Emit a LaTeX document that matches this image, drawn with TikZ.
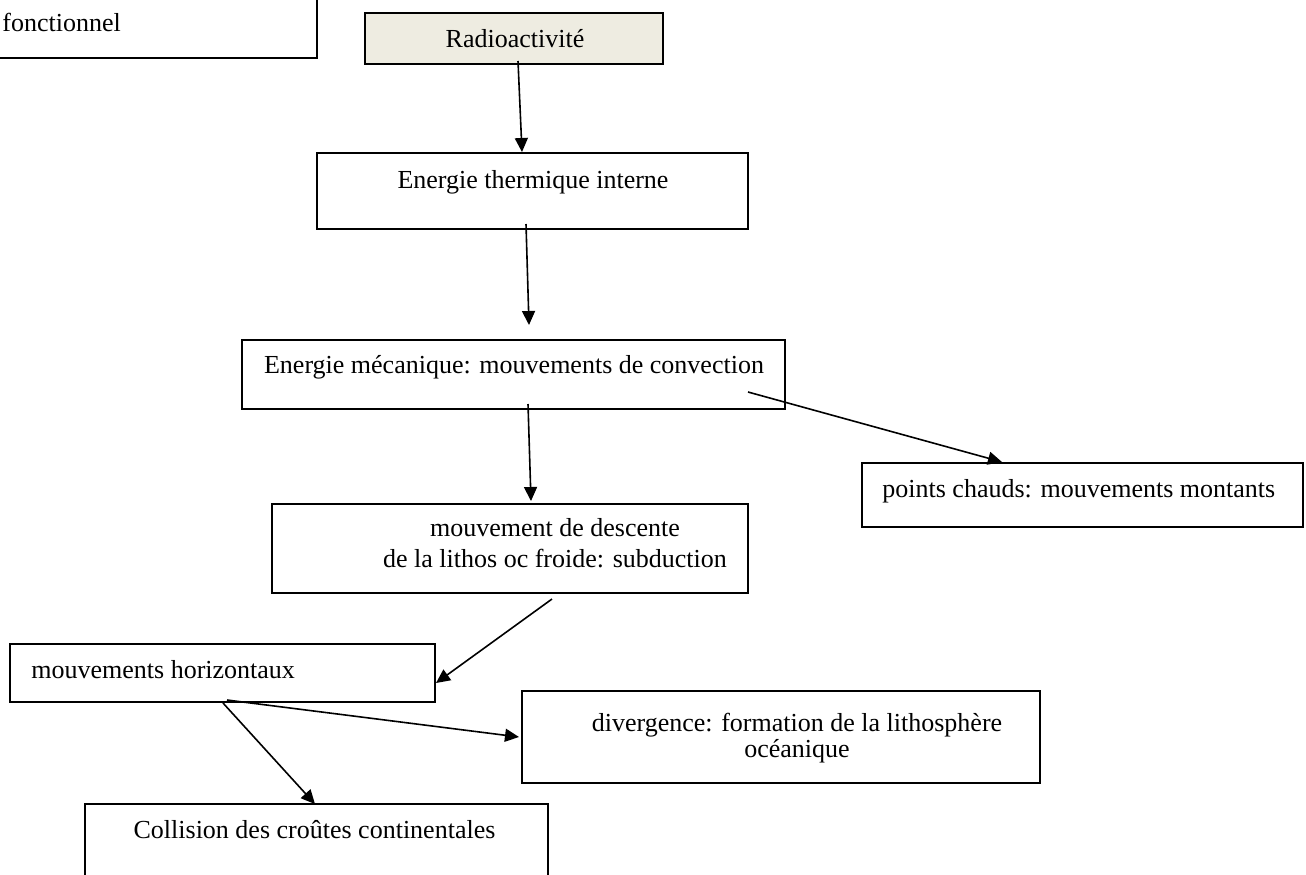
\documentclass[tikz,border=0pt]{standalone}
\usepackage{fontspec}
\setmainfont{Liberation Serif}
\usetikzlibrary{arrows.meta,calc}
\definecolor{beige}{HTML}{EEECE1}
\tikzset{
  box/.style={draw, line width=1pt, rectangle, inner sep=0pt},
  txt/.style={inner sep=0pt, anchor=base, font=\fontsize{13}{15}\selectfont},
  txtl/.style={txt, anchor=base west},
  conn/.style={line width=0.8pt, -{Triangle[length=7pt,width=6.5pt]}}
}
\begin{document}
\begin{tikzpicture}[x=0.5pt,y=-0.5pt]
\clip (0,0) rectangle (1306,874);
\fill[white] (0,0) rectangle (1306,874);
% boxes
\node[box, minimum width=168.5pt, minimum height=44pt] (tl) at (148.5,14) {};
\node[box, fill=beige, minimum width=149pt, minimum height=25.5pt] (rad) at (514,38.5) {};
\node[box, minimum width=215.5pt, minimum height=38pt] (therm) at (532.5,191) {};
\node[box, minimum width=271.5pt, minimum height=34.5pt] (meca) at (513.5,374.5) {};
\node[box, minimum width=220.5pt, minimum height=32pt] (chauds) at (1082.5,495) {};
\node[box, minimum width=238pt, minimum height=44.5pt] (desc) at (510,548.5) {};
\node[box, minimum width=212.5pt, minimum height=29pt] (horiz) at (222.5,673) {};
\node[box, minimum width=259pt, minimum height=46pt] (div) at (781,737) {};
\node[box, minimum width=231.5pt, minimum height=48pt] (coll) at (316.5,852) {};
% texts
\node[txtl] (tlt) at (2,31) {fonctionnel};
\node[txt] (radt) at (515,47) {Radioactivité};
\node[txt] (thermt) at (533,188) {Energie thermique interne};
\node[txt] (mecat) at (514,373) {Energie mécanique: mouvements de convection};
\node[txtl] (chaudst) at (882,497) {points chauds: mouvements montants};
\node[txt] (desct1) at (555,536) {mouvement de descente};
\node[txt] (desct2) at (555,567) {de la lithos oc froide: subduction};
\node[txtl] (horizt) at (31,678) {mouvements horizontaux};
\node[txt] (divt1) at (797,731) {divergence: formation de la lithosphère};
\node[txt] (divt2) at (797,757) {océanique};
\node[txt] (collt) at (314.5,838) {Collision des croûtes continentales};
% connectors
\draw[conn] ($(rad.south)+(4,-4)$) -- ($(therm.north)+(-10.5,0)$);
\draw[conn] ($(therm.south)+(-6.5,-6)$) -- ($(meca.north)+(15.5,-14)$);
\draw[conn] ($(meca.south)+(14.5,-6)$) -- ($(desc.north)+(21,-2)$);
\draw[conn] ($(meca.east)+(-38,17.5)$) -- ($(chauds.north)+(-80.5,0)$);
\draw[conn] ($(desc.south)+(42,5)$) -- ($(horiz.east)+(0,10)$);
\draw[conn] ($(horiz.south)+(4.5,-3)$) -- ($(div.west)+(-2,0)$);
\draw[conn] ($(horiz.south)+(0.5,0)$) -- ($(coll.north)+(-1.5,1)$);
\end{tikzpicture}
\end{document}
